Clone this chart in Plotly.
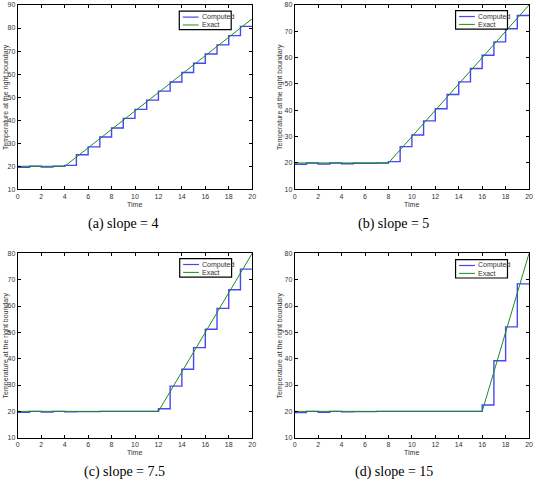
import plotly.graph_objects as go

# ---- data ----
time_steps = list(range(0, 21))

computed_a = [19.6, 20.0, 19.7, 20.0, 20.4, 25.0, 28.4, 32.7, 36.6, 40.8, 44.7, 48.7,
              52.6, 56.6, 60.7, 64.7, 68.7, 72.7, 76.7, 80.7, 80.7]
computed_b = [19.5, 20.0, 19.6, 20.0, 19.7, 19.9, 19.9, 20.0, 20.5, 26.2, 30.6, 36.0,
              40.6, 46.0, 50.8, 55.9, 60.9, 66.0, 71.0, 76.0, 76.0]
computed_c = [19.6, 20.0, 19.7, 20.0, 19.8, 19.9, 19.9, 20.0, 20.0, 20.0, 20.0, 20.0,
              21.0, 29.6, 36.0, 44.2, 51.2, 59.1, 66.2, 74.0, 74.0]
computed_d = [19.5, 20.0, 19.6, 20.0, 19.8, 19.9, 19.9, 20.0, 20.0, 20.0, 20.0, 20.0,
              20.0, 20.0, 20.0, 20.0, 22.4, 39.2, 52.1, 68.4, 68.4]

exact_t_a = [0, 4, 20]
exact_v_a = [20, 20, 84]
exact_t_b = [0, 8, 20]
exact_v_b = [20, 20, 80]
exact_t_c = [0, 12, 20]
exact_v_c = [20, 20, 80]
exact_t_d = [0, 16, 20]
exact_v_d = [20, 20, 80]

captions = ["(a) slope = 4", "(b) slope = 5", "(c) slope = 7.5", "(d) slope = 15"]
series_names = ["Computed", "Exact"]
y_ranges = [[10, 90], [10, 80], [10, 80], [10, 80]]
x_ticks = list(range(0, 21, 2))

W, H = 537, 488
BLUE = "rgb(70,70,245)"
GREEN = "rgb(30,140,30)"
TXT = "#333333"
SANS = "Liberation Sans, Arial"

# panel pixel boxes: (left, right, top, bottom)
boxes = [(16, 253, 1, 188), (296, 533, 1, 188), (16, 253, 253, 440), (296, 533, 253, 440)]
legend_pos = [(179.3, 7.3), (458.7, 6.7), (179.7, 258.3), (458.7, 259.3)]
caption_pos = [(123, 223), (396, 223), (124, 475), (396, 475)]
ytitle_x = [4, 281, 4, 281]

computed = [computed_a, computed_b, computed_c, computed_d]
exact_t = [exact_t_a, exact_t_b, exact_t_c, exact_t_d]
exact_v = [exact_v_a, exact_v_b, exact_v_c, exact_v_d]


def px(x):
    return x / W


def py(y):
    return 1 - y / H


fig = go.Figure()
layout = dict(
    width=W, height=H, margin=dict(l=0, r=0, t=0, b=0),
    paper_bgcolor="white", plot_bgcolor="white", showlegend=False,
)
annotations = []
shapes = []
for i in range(4):
    sfx = "" if i == 0 else str(i + 1)
    fig.add_trace(go.Scatter(
        x=time_steps, y=computed[i], mode="lines", line=dict(color=BLUE, width=1.4, shape="hv"),
        name=series_names[0], xaxis="x" + sfx, yaxis="y" + sfx))
    fig.add_trace(go.Scatter(
        x=exact_t[i], y=exact_v[i], mode="lines", line=dict(color=GREEN, width=1),
        name=series_names[1], xaxis="x" + sfx, yaxis="y" + sfx))
    l, r, t, b = boxes[i]
    common = dict(showline=True, linecolor="black", linewidth=1, mirror="ticks",
                  ticks="inside", ticklen=3, tickcolor="black", showgrid=False, zeroline=False,
                  tickfont=dict(family=SANS, size=7, color=TXT))
    layout["xaxis" + sfx] = dict(domain=[px(l), px(r)], range=[0, 20], tickvals=x_ticks,
                                 anchor="y" + sfx, **common)
    layout["yaxis" + sfx] = dict(domain=[py(b), py(t)], range=y_ranges[i], dtick=10,
                                 anchor="x" + sfx, **common)
    # x title
    annotations.append(dict(text="Time", x=px((l + r) / 2), y=py(b + 15), xref="paper", yref="paper",
                            showarrow=False, xanchor="center", yanchor="middle",
                            font=dict(family=SANS, size=7, color=TXT)))
    # legend (manual box)
    lx, ly = legend_pos[i]
    shapes.append(dict(type="rect", xref="paper", yref="paper", x0=px(lx), x1=px(lx + 52.5),
                       y0=py(ly + 18.7), y1=py(ly), line=dict(color="black", width=1.2),
                       fillcolor="white", layer="above"))
    for k, (nm, col) in enumerate(zip(series_names, [BLUE, GREEN])):
        yy = ly + 6 + 8 * k
        shapes.append(dict(type="line", xref="paper", yref="paper", x0=px(lx + 3.5), x1=px(lx + 19.5),
                           y0=py(yy), y1=py(yy), line=dict(color=col, width=1.2 if k == 0 else 1),
                           layer="above"))
        annotations.append(dict(text=nm, x=px(lx + 21), y=py(yy), xref="paper", yref="paper",
                                showarrow=False, xanchor="left", yanchor="middle",
                                font=dict(family=SANS, size=7, color=TXT)))
    cx, cy = caption_pos[i]
    annotations.append(dict(text=captions[i], x=px(cx), y=py(cy), xref="paper", yref="paper",
                            showarrow=False, xanchor="center", yanchor="middle",
                            font=dict(family="Liberation Serif, serif", size=14, color="black")))
    annotations.append(dict(text="Temperature at the right boundary", x=px(ytitle_x[i]),
                            y=py((t + b) / 2), xref="paper", yref="paper", textangle=-90,
                            showarrow=False, xanchor="center", yanchor="middle",
                            font=dict(family=SANS, size=7, color=TXT)))
layout["annotations"] = annotations
layout["shapes"] = shapes
fig.update_layout(**layout)
fig.write_html("out.html")
